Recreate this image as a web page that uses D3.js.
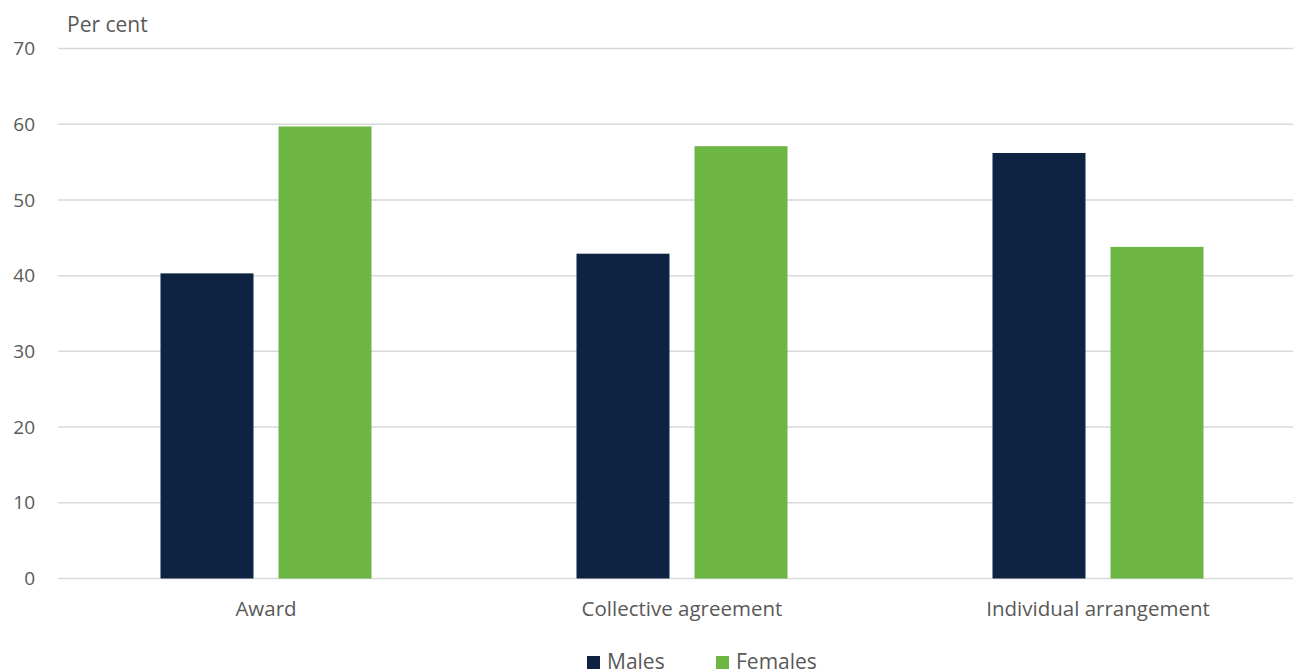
<!DOCTYPE html>
<html>
<head>
<meta charset="utf-8">
<script src="https://cdn.jsdelivr.net/npm/d3@7"></script>
<style>
  body { margin: 0; background: #fff; }
  text { font-family: "Open Sans", sans-serif; fill: #595959; }
</style>
</head>
<body>
<div id="chart"></div>
<script>
var categories = ["Award", "Collective agreement", "Individual arrangement"];
var seriesNames = ["Males", "Females"];
var males = [40.3, 42.9, 56.2];
var females = [59.7, 57.1, 43.8];
var yTicks = [0, 10, 20, 30, 40, 50, 60, 70];
var colors = ["#0E2341", "#6DB644"];

var W = 1293, H = 672;
var svg = d3.select("#chart").append("svg")
    .attr("width", W)
    .attr("height", H);

var x = d3.scaleBand()
    .domain(categories)
    .range([58, 1306]);

var x1 = d3.scaleBand()
    .domain(seriesNames)
    .range([x.bandwidth() / 2 - 105.5, x.bandwidth() / 2 + 105.5])
    .paddingInner(0.212);

var y = d3.scaleLinear()
    .domain([0, 70])
    .range([578.5, 48.5]);

// gridlines
svg.append("g")
    .selectAll("line")
    .data(yTicks)
    .enter()
    .append("line")
    .attr("x1", 58)
    .attr("x2", 1293)
    .attr("y1", function(d) { return y(d); })
    .attr("y2", function(d) { return y(d); })
    .attr("stroke", "#d9d9d9")
    .attr("stroke-width", 1.5);

// y axis labels
svg.append("g")
    .selectAll("text")
    .data(yTicks)
    .enter()
    .append("text")
    .attr("x", 35)
    .attr("y", function(d) { return y(d); })
    .attr("dy", "0.35em")
    .attr("text-anchor", "end")
    .style("font-size", "19px")
    .text(function(d) { return d; });

svg.append("text")
    .attr("x", 67)
    .attr("y", 32)
    .style("font-size", "21px")
    .text("Per cent");

// bars
var rows = categories.map(function(c, i) {
    return { cat: c, vals: [males[i], females[i]] };
});

var groups = svg.selectAll(".grp")
    .data(rows)
    .enter()
    .append("g")
    .attr("class", "grp")
    .attr("transform", function(d) { return "translate(" + x(d.cat) + ",0)"; });

groups.selectAll("rect")
    .data(function(d) { return d.vals.map(function(v, j) { return { s: seriesNames[j], v: v, j: j }; }); })
    .enter()
    .append("rect")
    .attr("x", function(d) { return x1(d.s); })
    .attr("y", function(d) { return y(d.v); })
    .attr("width", x1.bandwidth())
    .attr("height", function(d) { return y(0) - y(d.v); })
    .attr("fill", function(d) { return colors[d.j]; });

// category labels
svg.append("g")
    .selectAll("text")
    .data(categories)
    .enter()
    .append("text")
    .attr("x", function(d) { return x(d) + x.bandwidth() / 2; })
    .attr("y", 609)
    .attr("dy", "0.35em")
    .attr("text-anchor", "middle")
    .style("font-size", "20.5px")
    .text(function(d) { return d; });

// legend
var legendX = [587, 716];
var legend = svg.append("g")
    .selectAll("g")
    .data(seriesNames)
    .enter()
    .append("g")
    .attr("transform", function(d, i) { return "translate(" + legendX[i] + ",656)"; });

legend.append("rect")
    .attr("width", 13)
    .attr("height", 13)
    .attr("fill", function(d, i) { return colors[i]; });

legend.append("text")
    .attr("x", 20)
    .attr("y", 6)
    .attr("dy", "0.35em")
    .style("font-size", "21px")
    .text(function(d) { return d; });
</script>
</body>
</html>
